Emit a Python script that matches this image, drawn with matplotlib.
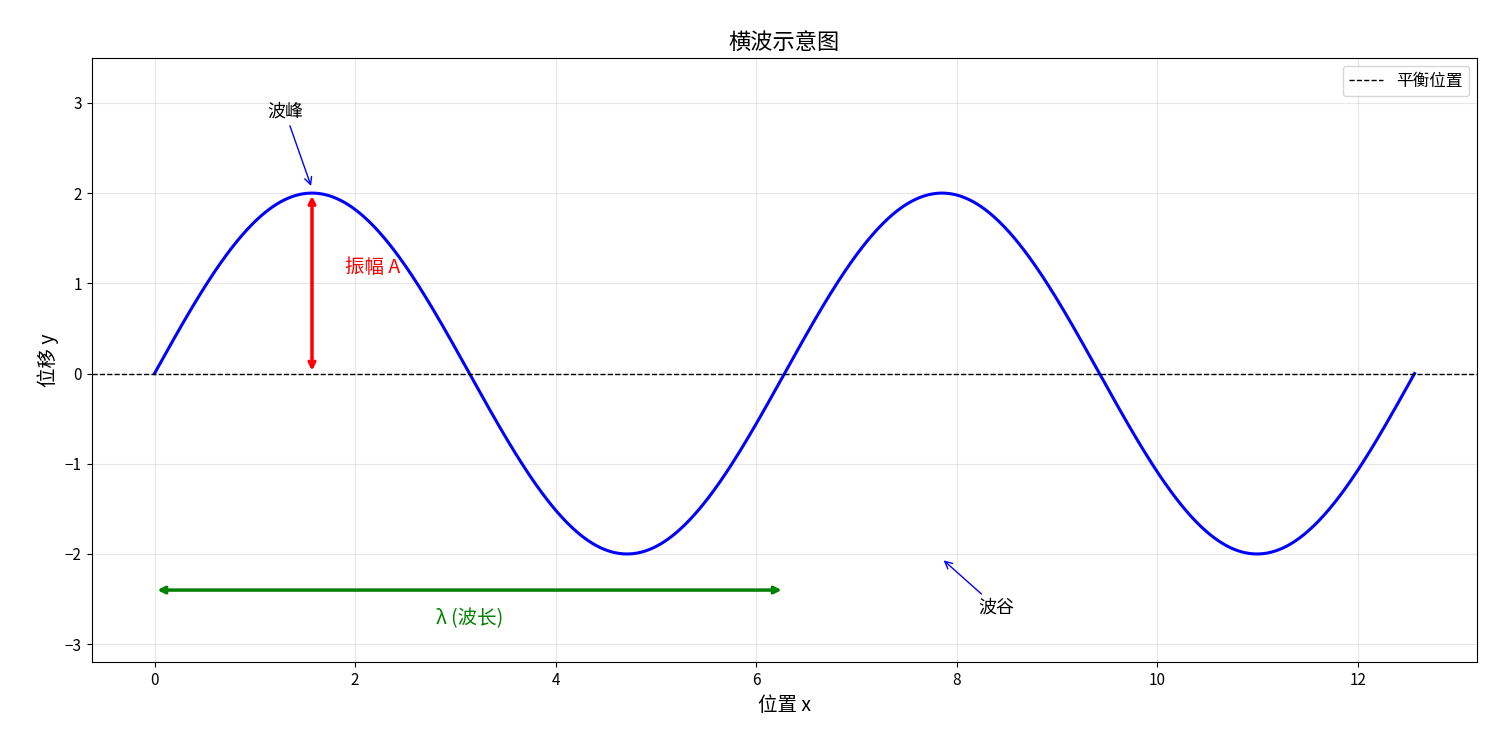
import numpy as np
import matplotlib
matplotlib.use("Agg")
import matplotlib.pyplot as plt

plt.rcParams['font.family'] = ['Noto Sans CJK SC', 'DejaVu Sans']

amplitude = 2.0
wavelength = 2 * np.pi
x_end = 4 * np.pi
x = np.linspace(0, x_end, 1000)
y = amplitude * np.sin(2 * np.pi * x / wavelength)

fig, ax = plt.subplots(figsize=(15, 7.5), dpi=100)
ax.plot(x, y, color='blue', lw=2.2)
ax.axhline(0, color='black', ls='--', lw=1, label='平衡位置')

ax.annotate('波峰', xy=(wavelength / 4, amplitude + 0.05), xytext=(1.3, 2.85),
            fontsize=13, ha='center', arrowprops=dict(arrowstyle='->', color='blue'))
ax.annotate('波谷', xy=(7.85, -2.05), xytext=(8.4, -2.65),
            fontsize=13, ha='center', arrowprops=dict(arrowstyle='->', color='blue'))

ax.annotate('', xy=(wavelength / 4, amplitude), xytext=(wavelength / 4, 0),
            arrowprops=dict(arrowstyle='<->', color='red', lw=2.5))
ax.text(1.9, 1.18, '振幅 A', color='red', fontsize=14, va='center')

ax.annotate('', xy=(0, -2.4), xytext=(wavelength, -2.4),
            arrowprops=dict(arrowstyle='<->', color='green', lw=2.5))
ax.text(wavelength / 2, -2.72, 'λ (波长)', color='green', fontsize=14, ha='center', va='center')

ax.set_ylim(-3.2, 3.5)
ax.tick_params(labelsize=11)
ax.set_xlabel('位置 x', fontsize=14)
ax.set_ylabel('位移 y', fontsize=14)
ax.set_title('横波示意图', fontsize=16)
ax.grid(True, alpha=0.3)
ax.legend(loc='upper right', fontsize=12)
fig.subplots_adjust(left=0.061, right=0.985, top=0.923, bottom=0.117)
fig.savefig('out.png')
